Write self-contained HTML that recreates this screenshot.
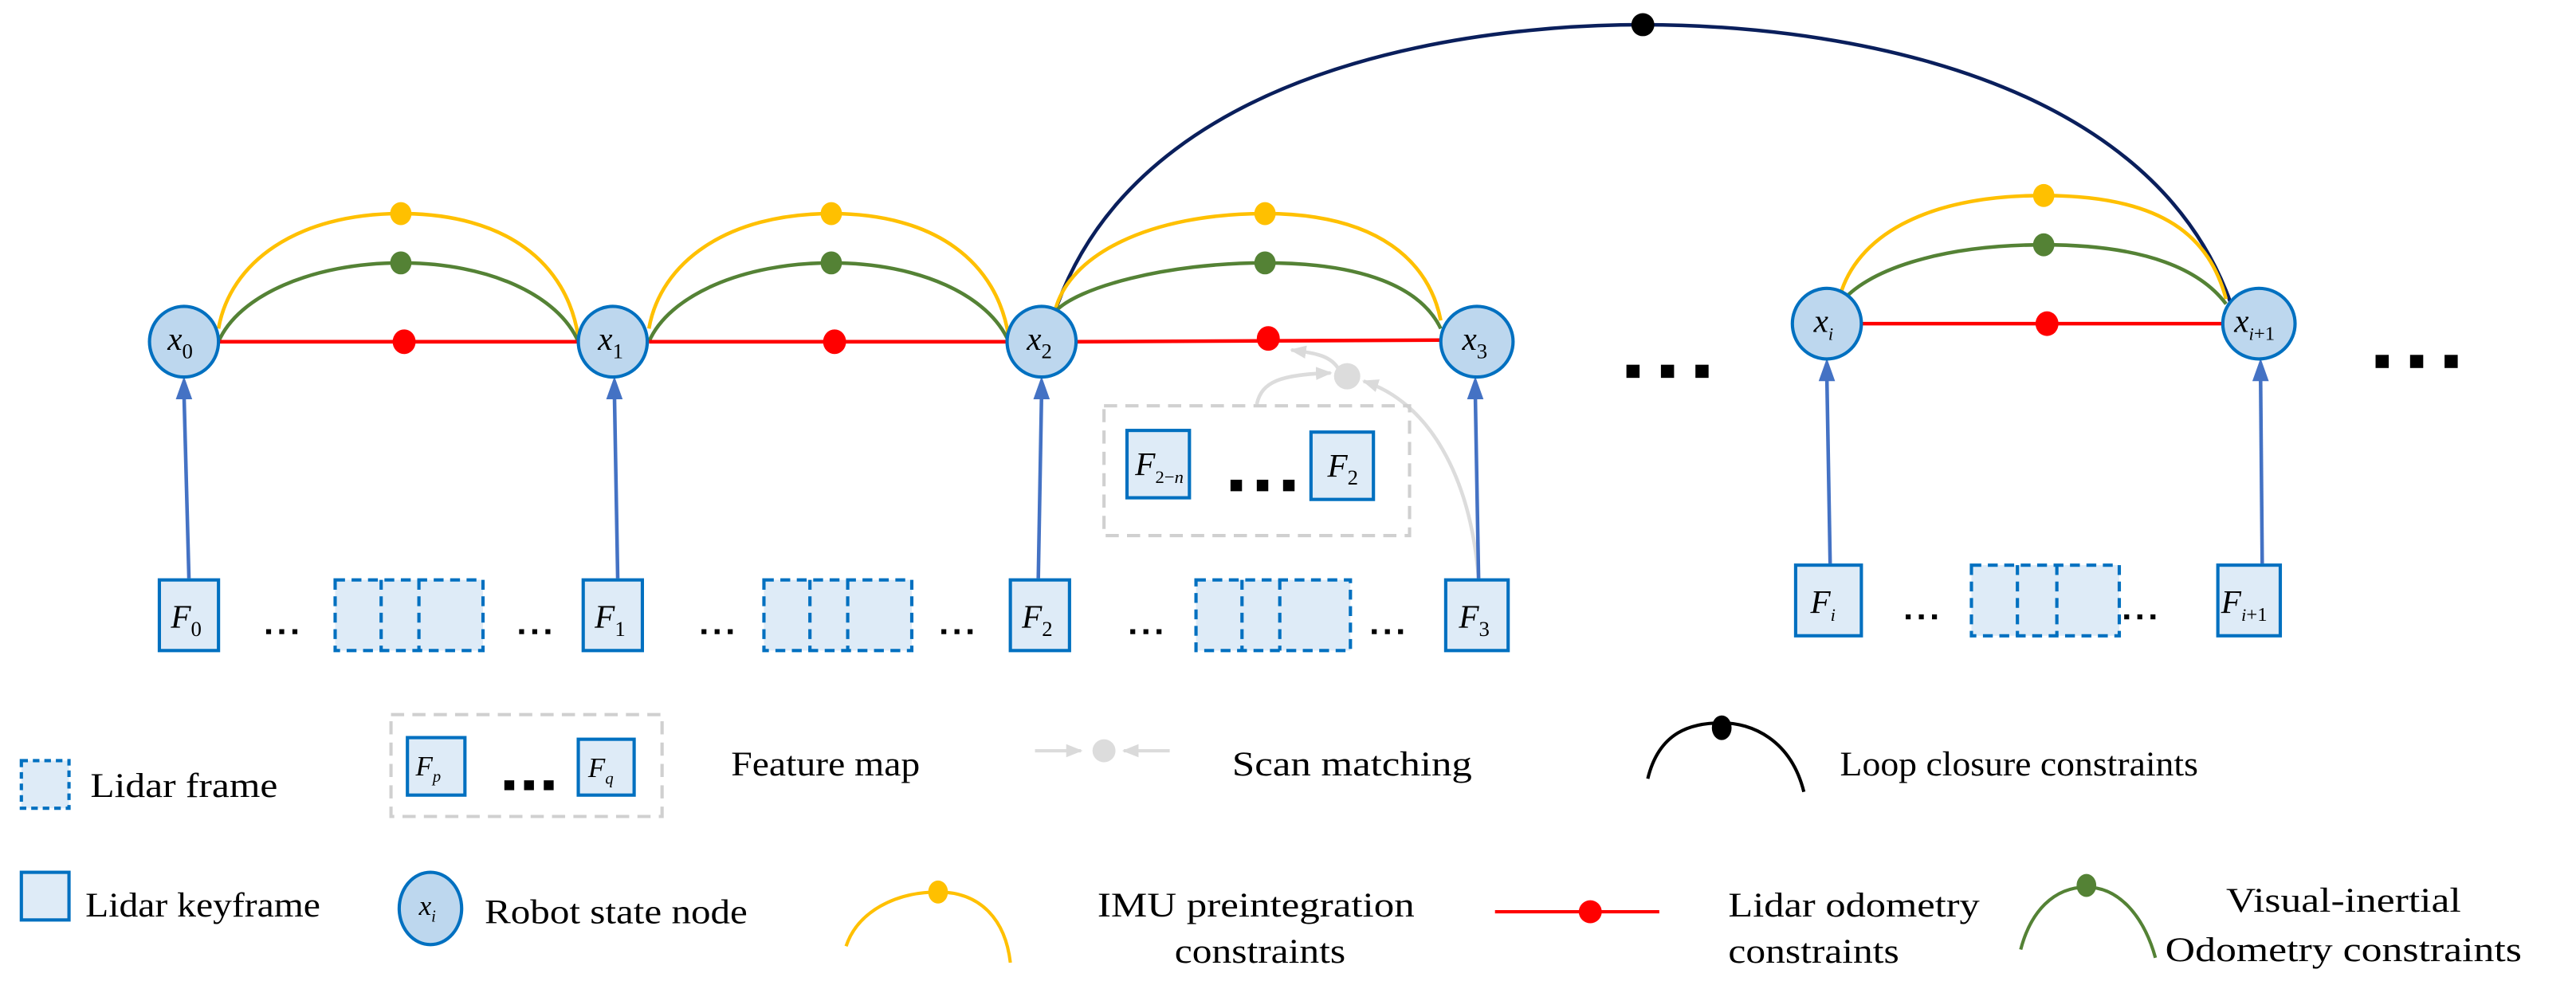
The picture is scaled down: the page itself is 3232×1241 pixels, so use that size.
<!DOCTYPE html>
<html><head><meta charset="utf-8"><style>
html,body{margin:0;padding:0;background:#fff;}
svg{display:block;}
text{font-family:"Liberation Serif",serif;}
.it{font-style:italic;}
</style></head><body>
<svg width="3232" height="1241" viewBox="0 0 1568 602" xmlns="http://www.w3.org/2000/svg">
<defs>
<marker id="ag" markerWidth="10" markerHeight="10" refX="9" refY="5" orient="auto" markerUnits="userSpaceOnUse"><path d="M0,1 L10,5 L0,9 Z" fill="#DADADA"/></marker>
<g id="d3"><rect x="0" y="0" width="3" height="3"/><rect x="8" y="0" width="3" height="3"/><rect x="16" y="0" width="3" height="3"/></g>
</defs>

<!-- loop closure -->
<path d="M642,190 C700,20 950,15 1000,15 C1050,15 1300,20 1358,185" fill="none" stroke="#0A1F5C" stroke-width="2.2"/>
<ellipse cx="1000" cy="15" rx="7" ry="7" fill="#000"/>

<!-- arcs between nodes -->
<g fill="none" stroke-width="2.2">
<path d="M133,200 C140,160 180,130 244,130 C308,130 345,160 352,205" stroke="#FFC000"/>
<path d="M133,208 C145,180 190,160 244,160 C298,160 340,180 352,208" stroke="#548235"/>
<path d="M395,200 C402,160 442,130 506,130 C570,130 607,160 614,205" stroke="#FFC000"/>
<path d="M395,208 C407,180 452,160 506,160 C560,160 602,180 614,208" stroke="#548235"/>
<path d="M642,190 C650,155 700,130 770,130 C840,130 870,160 877,195" stroke="#FFC000"/>
<path d="M642,190 C655,175 710,160 770,160 C830,160 865,175 877,200" stroke="#548235"/>
<path d="M1120,180 C1130,145 1170,119 1244,119 C1318,119 1345,145 1355,182" stroke="#FFC000"/>
<path d="M1120,185 C1135,165 1180,149 1244,149 C1308,149 1340,165 1355,185" stroke="#548235"/>
</g>
<g>
<ellipse cx="244" cy="130" rx="6.5" ry="7" fill="#FFC000"/><ellipse cx="244" cy="160" rx="6.5" ry="7" fill="#548235"/>
<ellipse cx="506" cy="130" rx="6.5" ry="7" fill="#FFC000"/><ellipse cx="506" cy="160" rx="6.5" ry="7" fill="#548235"/>
<ellipse cx="770" cy="130" rx="6.5" ry="7" fill="#FFC000"/><ellipse cx="770" cy="160" rx="6.5" ry="7" fill="#548235"/>
<ellipse cx="1244" cy="119" rx="6.5" ry="7" fill="#FFC000"/><ellipse cx="1244" cy="149" rx="6.5" ry="7" fill="#548235"/>
</g>

<!-- red lines -->
<g stroke="#FF0000" stroke-width="2.2">
<line x1="133" y1="208" x2="352" y2="208"/>
<line x1="395" y1="208" x2="614" y2="208"/>
<line x1="655" y1="208" x2="877" y2="207"/>
<line x1="1133" y1="197" x2="1353" y2="197"/>
</g>
<g fill="#FF0000">
<ellipse cx="246" cy="208" rx="7" ry="7.5"/><ellipse cx="508" cy="208" rx="7" ry="7.5"/>
<ellipse cx="772" cy="206" rx="7" ry="7.5"/><ellipse cx="1246" cy="197" rx="7" ry="7.5"/>
</g>

<!-- scan matching gray -->
<g fill="none" stroke="#DCDCDC" stroke-width="2.2">
<path d="M765,246 C768,232 780,228 810,227" marker-end="url(#ag)"/>
<path d="M900,352 C895,290 870,245 830,232" marker-end="url(#ag)"/>
<path d="M815,225 C810,216 800,215 786,213" marker-end="url(#ag)"/>
</g>
<ellipse cx="820" cy="229" rx="8" ry="8" fill="#DCDCDC"/>

<!-- blue arrows -->
<g stroke="#4472C4" stroke-width="2.2">
<line x1="115" y1="352" x2="112" y2="240"/>
<line x1="376" y1="352" x2="374" y2="240"/>
<line x1="632" y1="352" x2="634" y2="240"/>
<line x1="900" y1="352" x2="898" y2="240"/>
<line x1="1114" y1="343" x2="1112" y2="229"/>
<line x1="1377" y1="343" x2="1376" y2="229"/>
</g>
<g fill="#4472C4">
<polygon points="107,243 112,229 117,243"/>
<polygon points="369,243 374,229 379,243"/>
<polygon points="629,243 634,229 639,243"/>
<polygon points="893,243 898,229 903,243"/>
<polygon points="1107,232 1112,218 1117,232"/>
<polygon points="1371,232 1376,218 1381,232"/>
</g>

<!-- nodes -->
<g fill="#BDD7EE" stroke="#0070C0" stroke-width="2">
<ellipse cx="112" cy="208" rx="21" ry="21.5"/>
<ellipse cx="373" cy="208" rx="21" ry="21.5"/>
<ellipse cx="634" cy="208" rx="21" ry="21.5"/>
<ellipse cx="899" cy="208" rx="22" ry="21.5"/>
<ellipse cx="1112" cy="197" rx="21" ry="21.5"/>
<ellipse cx="1375" cy="197" rx="22" ry="21.5"/>
</g>
<g font-size="20" class="it">
<text x="102" y="213" class="it">x<tspan font-size="13" font-style="normal" dy="5">0</tspan></text>
<text x="364" y="213" class="it">x<tspan font-size="13" font-style="normal" dy="5">1</tspan></text>
<text x="625" y="213" class="it">x<tspan font-size="13" font-style="normal" dy="5">2</tspan></text>
<text x="890" y="213" class="it">x<tspan font-size="13" font-style="normal" dy="5">3</tspan></text>
<text x="1104" y="202" class="it">x<tspan font-size="11" dy="5">i</tspan></text>
<text x="1360" y="202" class="it">x<tspan font-size="11" dy="5">i</tspan><tspan font-size="12" font-style="normal">+1</tspan></text>
</g>

<!-- keyframe boxes -->
<g fill="#DEEBF7" stroke="#0070C0" stroke-width="2">
<rect x="97" y="353" width="36" height="43"/>
<rect x="355" y="353" width="36" height="43"/>
<rect x="615" y="353" width="36" height="43"/>
<rect x="880" y="353" width="38" height="43"/>
<rect x="1093" y="344" width="40" height="43"/>
<rect x="1350" y="344" width="38" height="43"/>
<rect x="686" y="262" width="38" height="41"/>
<rect x="798" y="263" width="38" height="41"/>
<rect x="248" y="449" width="35" height="35"/>
<rect x="352" y="450" width="34" height="34"/>
<rect x="13" y="531" width="29" height="29"/>
</g>
<g font-size="20" class="it">
<text x="104" y="382">F<tspan font-size="13" font-style="normal" dy="5">0</tspan></text>
<text x="362" y="382">F<tspan font-size="13" font-style="normal" dy="5">1</tspan></text>
<text x="622" y="382">F<tspan font-size="13" font-style="normal" dy="5">2</tspan></text>
<text x="888" y="382">F<tspan font-size="13" font-style="normal" dy="5">3</tspan></text>
<text x="1102" y="373">F<tspan font-size="11" dy="5">i</tspan></text>
<text x="1352" y="373">F<tspan font-size="11" dy="5">i</tspan><tspan font-size="12" font-style="normal">+1</tspan></text>
<text x="691" y="289">F<tspan font-size="11" font-style="normal" dy="5">2−</tspan><tspan font-size="11">n</tspan></text>
<text x="808" y="290">F<tspan font-size="13" font-style="normal" dy="5">2</tspan></text>
<text x="253" y="472" font-size="17">F<tspan font-size="10" dy="4">p</tspan></text>
<text x="358" y="473" font-size="17">F<tspan font-size="10" dy="4">q</tspan></text>
</g>

<!-- lidar frames dashed -->
<g fill="#DEEBF7" stroke="#0070C0" stroke-width="2" stroke-dasharray="6,4">
<rect x="204" y="353" width="90" height="43"/><line x1="232" y1="353" x2="232" y2="396"/><line x1="255" y1="353" x2="255" y2="396"/>
<rect x="465" y="353" width="90" height="43"/><line x1="493" y1="353" x2="493" y2="396"/><line x1="516" y1="353" x2="516" y2="396"/>
<rect x="728" y="353" width="94" height="43"/><line x1="756" y1="353" x2="756" y2="396"/><line x1="779" y1="353" x2="779" y2="396"/>
<rect x="1200" y="344" width="90" height="43"/><line x1="1228" y1="344" x2="1228" y2="387"/><line x1="1252" y1="344" x2="1252" y2="387"/>
<rect x="13" y="463" width="29" height="29" stroke-dasharray="4,3"/>
</g>

<!-- gray dashed feature map boxes -->
<g fill="none" stroke="#D0D0D0" stroke-width="2" stroke-dasharray="8,5">
<rect x="672" y="247" width="186" height="79"/>
<rect x="238" y="435" width="165" height="62"/>
</g>

<!-- small ellipsis dots -->
<g fill="#000">
<use href="#d3" x="162" y="383"/><use href="#d3" x="316" y="383"/><use href="#d3" x="427" y="383"/>
<use href="#d3" x="573" y="383"/><use href="#d3" x="688" y="383"/><use href="#d3" x="835" y="383"/>
<use href="#d3" x="1160" y="374"/><use href="#d3" x="1293" y="374"/>
</g>
<!-- big dots -->
<g fill="#000">
<rect x="990" y="222" width="8" height="8"/><rect x="1011" y="222" width="8" height="8"/><rect x="1032" y="222" width="8" height="8"/>
<rect x="1446" y="216" width="8" height="8"/><rect x="1467" y="216" width="8" height="8"/><rect x="1488" y="216" width="8" height="8"/>
<rect x="749" y="292" width="7" height="7"/><rect x="765" y="292" width="7" height="7"/><rect x="781" y="292" width="7" height="7"/>
<rect x="307" y="475" width="6" height="6"/><rect x="319" y="475" width="6" height="6"/><rect x="331" y="475" width="6" height="6"/>
</g>

<!-- legend -->
<g fill="none" stroke-width="2">
<line x1="630" y1="457" x2="658" y2="457" stroke="#DCDCDC" marker-end="url(#ag)"/>
<line x1="712" y1="457" x2="684" y2="457" stroke="#DCDCDC" marker-end="url(#ag)"/>
<path d="M1003,474 C1010,445 1030,440 1048,440 C1066,440 1090,450 1098,482" stroke="#000"/>
<path d="M515,576 C522,555 545,543 571,543 C597,543 612,560 615,586" stroke="#FFC000"/>
<line x1="910" y1="555" x2="1010" y2="555" stroke="#FF0000"/>
<path d="M1230,578 C1236,555 1250,540 1270,540 C1290,540 1305,558 1312,583" stroke="#548235"/>
</g>
<ellipse cx="672" cy="457" rx="7" ry="7" fill="#DCDCDC"/>
<ellipse cx="1048" cy="443" rx="6" ry="7.5" fill="#000"/>
<ellipse cx="571" cy="543" rx="6" ry="7" fill="#FFC000"/>
<ellipse cx="968" cy="555" rx="7" ry="7" fill="#FF0000"/>
<ellipse cx="1270" cy="539" rx="6" ry="7" fill="#548235"/>
<ellipse cx="262" cy="553" rx="19" ry="22" fill="#BDD7EE" stroke="#0070C0" stroke-width="2"/>
<text x="255" y="557" font-size="17" class="it">x<tspan font-size="10" dy="4">i</tspan></text>

<g font-size="21" fill="#000">
<text x="55" y="485" textLength="114" lengthAdjust="spacingAndGlyphs">Lidar frame</text>
<text x="52" y="558" textLength="143" lengthAdjust="spacingAndGlyphs">Lidar keyframe</text>
<text x="445" y="472" textLength="115" lengthAdjust="spacingAndGlyphs">Feature map</text>
<text x="295" y="562" textLength="160" lengthAdjust="spacingAndGlyphs">Robot state node</text>
<text x="750" y="472" textLength="146" lengthAdjust="spacingAndGlyphs">Scan matching</text>
<text x="1120" y="472" textLength="218" lengthAdjust="spacingAndGlyphs">Loop closure constraints</text>
<text x="668" y="558" textLength="193" lengthAdjust="spacingAndGlyphs">IMU preintegration</text>
<text x="715" y="586" textLength="104" lengthAdjust="spacingAndGlyphs">constraints</text>
<text x="1052" y="558" textLength="153" lengthAdjust="spacingAndGlyphs">Lidar odometry</text>
<text x="1052" y="586" textLength="104" lengthAdjust="spacingAndGlyphs">constraints</text>
<text x="1355" y="555" textLength="143" lengthAdjust="spacingAndGlyphs">Visual-inertial</text>
<text x="1318" y="585" textLength="217" lengthAdjust="spacingAndGlyphs">Odometry constraints</text>
</g>
</svg>
</body></html>
